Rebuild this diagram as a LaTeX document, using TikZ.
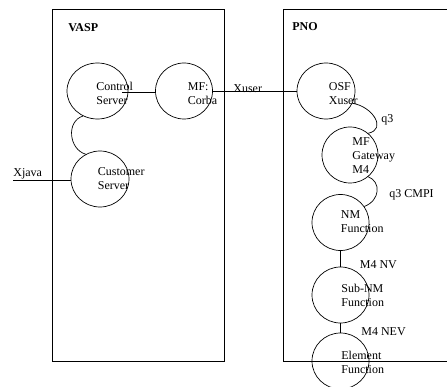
\documentclass[tikz,border=0pt]{standalone}
\usepackage{fontspec}
\setmainfont{Liberation Serif}
\usetikzlibrary{shapes.geometric}
\begin{document}
\begin{tikzpicture}[x=1pt,y=-1pt,line width=0.7pt,
  ell/.style={draw, ellipse, minimum width=#1, minimum height=56pt, inner sep=0pt},
  txt/.style={anchor=west, align=left, inner sep=0pt, font=\fontsize{12}{14}\selectfont},
  lbl/.style={anchor=base west, inner sep=0pt, font=\fontsize{12}{14}\selectfont},
  ttl/.style={anchor=base west, inner sep=0pt, font=\fontsize{12}{14}\selectfont\bfseries},
  boxline/.style={draw, line width=0.8pt}]
\useasboundingbox (0,0) rectangle (447,387);
\clip (0,0) rectangle (447,387);
% boxes
\draw[boxline] (52.3,9) rectangle (224.5,361);
\draw[boxline] (283.3,9) rectangle (470,361);
\node[ttl] (vasp) at (68,32) {VASP};
\node[ttl] (pno) at (292,31) {PNO};
% ellipses
\node[ell=61pt] (cs) at (97.5,91) {};
\node[ell=57pt] (mfc) at (184,91) {};
\node[ell=58pt] (cu) at (100,179) {};
\node[ell=58pt] (osf) at (326,91) {};
\node[ell=56pt] (mfg) at (350,155) {};
\node[ell=57pt] (nm) at (340.5,222.5) {};
\node[ell=57pt] (snm) at (340.5,295) {};
\node[ell=57pt] (el) at (340.5,361) {};
% texts
\node[txt] (cs-t) at (96,93) {Control\\Server};
\node[txt] (mfc-t) at (187.5,93.5) {MF:\\Corba};
\node[txt] (cu-t) at (97.5,179) {Customer\\Server};
\node[txt] (osf-t) at (328.5,94) {OSF\\Xuser};
\node[txt] (mfg-t) at (352,155.5) {MF\\Gateway\\M4};
\node[txt] (nm-t) at (340.5,222) {NM\\Function};
\node[txt] (snm-t) at (341,295.5) {Sub-NM\\Function};
\node[txt] (el-t) at (341,362) {Element\\Function};
% connectors
\coordinate (csx) at (122,92);
\draw (csx) -- (csx -| mfc.west);
\draw (mfc.east) -- (osf.west);
\coordinate (xj) at (13,180);
\draw (xj) -- (xj -| cu.west);
\draw (cs.240) .. controls +(-17,5) and +(-17,-5) .. (cu.120);
\draw (osf.-25) .. controls +(20,3) and +(19,-4) .. (mfg.50);
\draw (mfg.-50) .. controls +(13,5) and +(16,-6) .. (nm.34);
\draw (nm.south) -- (snm.north);
\draw (snm.south) -- (el.north);
% labels
\node[lbl] (xjava) at (13,177) {Xjava};
\node[lbl] (xuser) at (233,93) {Xuser};
\node[lbl] (q3) at (381,122.5) {q3};
\node[lbl] (q3c) at (389,197.5) {q3 CMPI};
\node[lbl] (m4nv) at (359.5,269) {M4 NV};
\node[lbl] (m4nev) at (361,335) {M4 NEV};
\end{tikzpicture}
\end{document}
